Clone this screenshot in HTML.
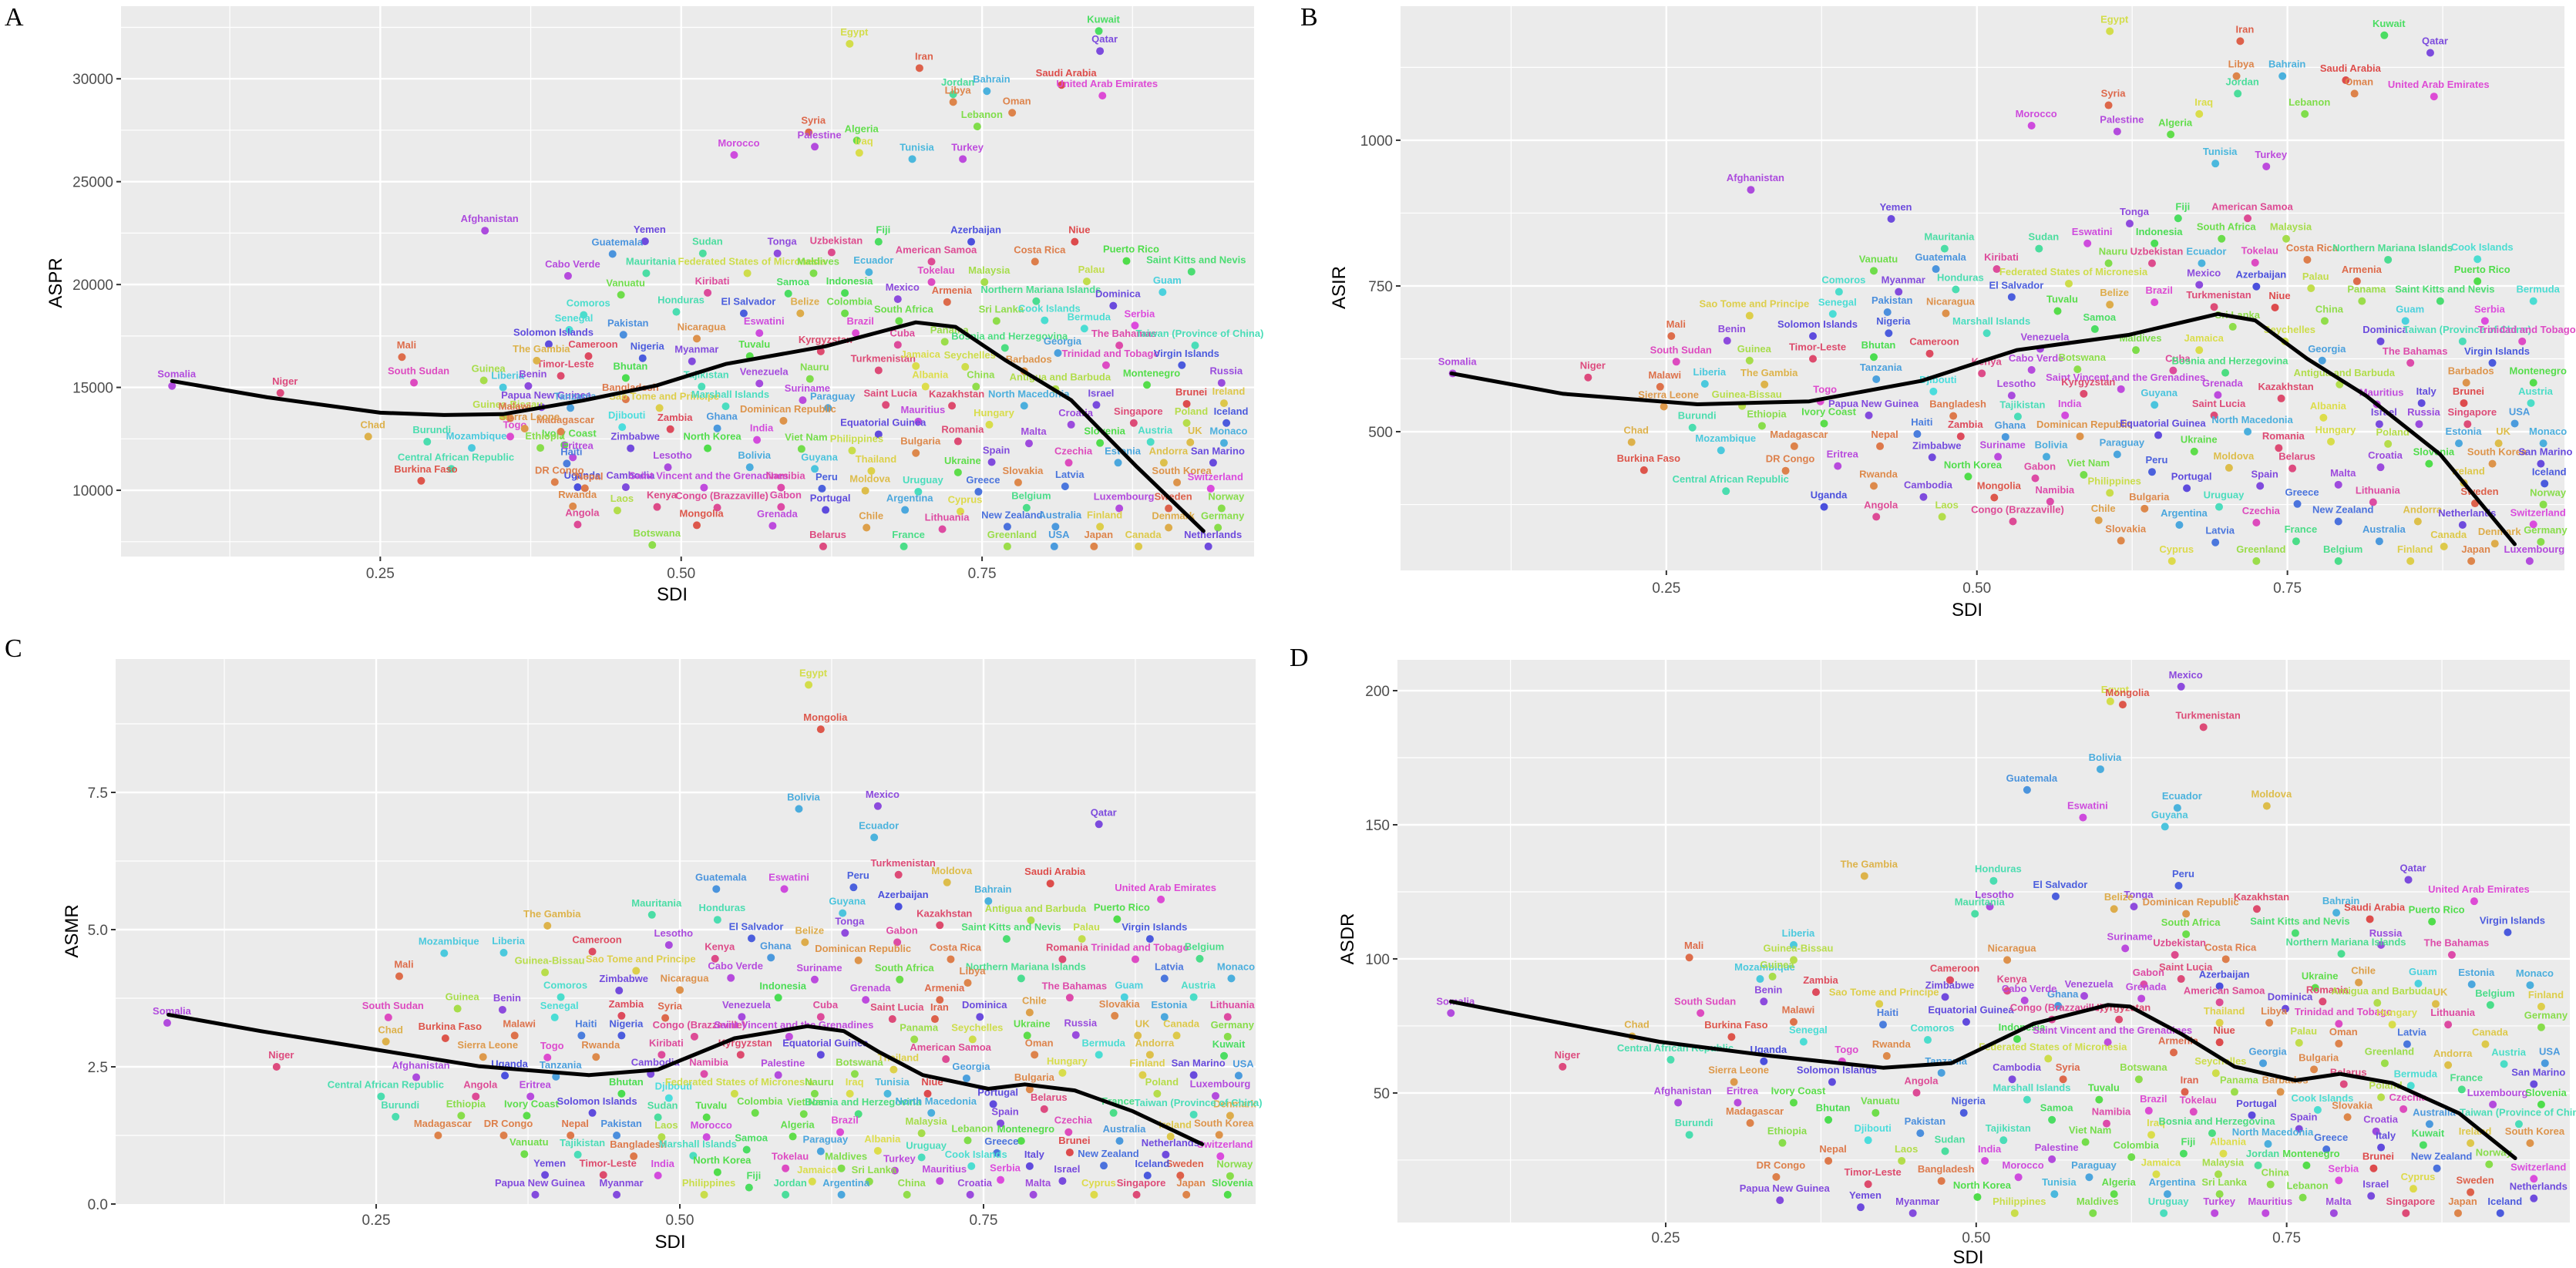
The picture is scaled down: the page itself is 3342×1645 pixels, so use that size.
<!DOCTYPE html>
<html><head><meta charset="utf-8">
<style>
html,body{margin:0;padding:0;background:#fff;}
svg{display:block;}
.lbl{font-family:"Liberation Sans Narrow","Liberation Sans",sans-serif;font-weight:bold;font-size:13px;}
.tick{font-family:"Liberation Sans",sans-serif;font-size:19px;fill:#4d4d4d;}
.ttl{font-family:"Liberation Sans Narrow","Liberation Sans",sans-serif;font-size:24px;fill:#000;}
.plet{font-family:"Liberation Serif",serif;font-size:34px;fill:#000;}
</style></head>
<body>
<svg id="fig" width="3342" height="1645" viewBox="0 0 3342 1645" xmlns="http://www.w3.org/2000/svg"></svg>
<script>
// ---------- Panel A (ASPR) ----------
const aPoints = [
["Egypt",0.64,31700],["Kuwait",0.847,32320],["Qatar",0.848,31350],["Iran",0.698,30520],["Jordan",0.726,29250],["Libya",0.726,28870],
["Bahrain",0.754,29400],["Saudi Arabia",0.816,29700],["United Arab Emirates",0.85,29180],["Oman",0.775,28350],["Lebanon",0.746,27680],
["Syria",0.606,27400],["Algeria",0.646,27000],["Palestine",0.611,26700],["Iraq",0.648,26400],["Morocco",0.544,26300],["Tunisia",0.692,26100],["Turkey",0.734,26100],
["Afghanistan",0.337,22620],["Yemen",0.47,22100],["Guatemala",0.443,21485],["Sudan",0.518,21515],["Tonga",0.58,21515],["Uzbekistan",0.625,21560],
["Fiji",0.664,22080],["Azerbaijan",0.741,22080],["Niue",0.827,22080],["Cabo Verde",0.406,20420],["Mauritania",0.471,20550],
["Federated States of Micronesia",0.555,20550],["Maldives",0.61,20550],["Ecuador",0.656,20600],["American Samoa",0.708,21115],["Costa Rica",0.794,21115],
["Puerto Rico",0.87,21145],["Saint Kitts and Nevis",0.924,20625],["Vanuatu",0.45,19500],["Kiribati",0.522,19600],["Samoa",0.589,19560],["Indonesia",0.636,19590],
["Tokelau",0.708,20120],["Malaysia",0.752,20120],["Palau",0.837,20150],["Guam",0.9,19630],["Comoros",0.419,18520],["Honduras",0.496,18670],
["El Salvador",0.552,18600],["Belize",0.599,18600],["Colombia",0.636,18600],["Mexico",0.68,19290],["Armenia",0.721,19150],["Northern Mariana Islands",0.795,19190],
["Dominica",0.859,18970],["Pakistan",0.452,17560],["Nicaragua",0.513,17370],["Eswatini",0.565,17640],["Brazil",0.645,17640],["South Africa",0.681,18230],
["Sri Lanka",0.762,18230],["Cook Islands",0.802,18260],["Bermuda",0.835,17860],["Serbia",0.877,18010],["Cameroon",0.423,16520],["Nigeria",0.468,16420],
["Myanmar",0.509,16270],["Tuvalu",0.557,16520],["Kyrgyzstan",0.616,16750],["Cuba",0.68,17070],["Panama",0.719,17220],["Bosnia and Herzegovina",0.769,16920],
["Georgia",0.813,16670],["The Bahamas",0.864,17040],["Taiwan (Province of China)",0.927,17040],["Timor-Leste",0.4,15560],["Bhutan",0.454,15460],
["Tajikistan",0.517,15040],["Venezuela",0.565,15190],["Nauru",0.607,15410],["Turkmenistan",0.664,15830],["Jamaica",0.695,16040],["Seychelles",0.736,16000],
["Barbados",0.785,15790],["Trinidad and Tobago",0.853,16080],["Virgin Islands",0.916,16080],["Papua New Guinea",0.384,14040],["Bangladesh",0.454,14420],
["Suriname",0.601,14380],["Albania",0.703,15040],["China",0.745,15040],["Antigua and Barbuda",0.811,14920],["Montenegro",0.887,15120],["Russia",0.949,15220],
["Tanzania",0.408,14000],["Sao Tome and Principe",0.482,14000],["Marshall Islands",0.537,14080],["Paraguay",0.622,14000],["Saint Lucia",0.67,14150],
["Kazakhstan",0.725,14110],["North Macedonia",0.785,14110],["Israel",0.845,14150],["Brunei",0.92,14200],["Ireland",0.951,14230],["Djibouti",0.451,13070],
["Zambia",0.491,12970],["Ghana",0.53,13010],["Dominican Republic",0.585,13380],["Mauritius",0.697,13340],["Hungary",0.756,13190],["Croatia",0.824,13190],
["Singapore",0.876,13270],["Poland",0.92,13270],["Iceland",0.953,13270],["Ivory Coast",0.403,12200],["Zimbabwe",0.458,12040],["North Korea",0.522,12040],
["India",0.563,12450],["Equatorial Guinea",0.664,12720],["Romania",0.73,12380],["Malta",0.789,12280],["Slovenia",0.848,12300],["Austria",0.89,12350],
["UK",0.923,12330],["Monaco",0.951,12300],["Viet Nam",0.6,12010],["Philippines",0.642,11930],["Bulgaria",0.695,11810],["Lesotho",0.489,11120],
["Bolivia",0.557,11120],["Guyana",0.611,11040],["Thailand",0.658,10940],["Spain",0.758,11370],["Czechia",0.822,11340],["Estonia",0.863,11340],
["Andorra",0.901,11340],["San Marino",0.942,11340],["Uganda",0.414,10150],["Cambodia",0.454,10150],["Saint Vincent and the Grenadines",0.519,10130],
["Namibia",0.583,10130],["Peru",0.617,10080],["Moldova",0.653,9980],["Ukraine",0.73,10870],["Uruguay",0.697,9930],["Greece",0.747,9930],["Slovakia",0.78,10380],
["Latvia",0.819,10190],["South Korea",0.912,10380],["Switzerland",0.94,10080],["Rwanda",0.41,9220],["Laos",0.447,9020],["Kenya",0.48,9190],
["Congo (Brazzaville)",0.53,9160],["Gabon",0.583,9190],["Portugal",0.62,9045],["Argentina",0.686,9045],["Cyprus",0.732,8970],["Belgium",0.787,9150],
["Luxembourg",0.864,9120],["Sweden",0.905,9120],["Norway",0.949,9120],["Angola",0.414,8335],["Mongolia",0.513,8300],["Grenada",0.576,8275],["Chile",0.654,8185],
["Lithuania",0.717,8110],["New Zealand",0.771,8230],["Australia",0.811,8230],["Finland",0.848,8230],["Denmark",0.905,8185],["Germany",0.946,8185],
["Botswana",0.476,7340],["Belarus",0.618,7270],["France",0.685,7270],["Greenland",0.771,7270],["USA",0.81,7270],["Japan",0.843,7270],["Canada",0.88,7270],
["Netherlands",0.938,7270],["Somalia",0.077,15070],["Niger",0.167,14730],["Mali",0.268,16475],["South Sudan",0.278,15230],["Guinea",0.336,15340],
["Liberia",0.352,15000],["Benin",0.373,15070],["Senegal",0.407,17800],["Solomon Islands",0.39,17100],["The Gambia",0.38,16300],["Guinea-Bissau",0.352,13590],
["Malawi",0.358,13500],["Chad",0.24,12610],["Burundi",0.289,12360],["Mozambique",0.326,12060],["Central African Republic",0.309,11040],["Burkina Faso",0.284,10460],
["Togo",0.358,12610],["Ethiopia",0.383,12060],["Madagascar",0.4,12850],["Sierra Leone",0.37,13000],["Eritrea",0.41,11600],["Haiti",0.405,11300],
["DR Congo",0.395,10400],["Nepal",0.42,10100]
];
const aCurveSdi = [0.077,0.156,0.25,0.303,0.352,0.418,0.48,0.537,0.62,0.695,0.728,0.77,0.824,0.879,0.934];
const aCurveVal = [15310,14520,13770,13660,13700,14360,15100,16140,17000,18160,17940,16300,14380,11120,8020];
const aYTicks = [10000,15000,20000,25000,30000];
const aYTickLabels = ["10000","15000","20000","25000","30000"];

// ---------- Panel B (ASIR) ----------
const bPoints = [
["Egypt",0.607,1187],["Iran",0.712,1170],["Kuwait",0.828,1180],["Qatar",0.865,1150],["Libya",0.709,1110],["Bahrain",0.746,1110],["Saudi Arabia",0.797,1103],
["Jordan",0.71,1080],["Oman",0.804,1080],["United Arab Emirates",0.868,1075],["Syria",0.606,1060],["Iraq",0.679,1045],["Lebanon",0.764,1045],["Morocco",0.544,1025],
["Palestine",0.613,1015],["Algeria",0.656,1010],["Tunisia",0.692,960],["Turkey",0.733,955],["Afghanistan",0.318,915],["Yemen",0.431,865],
["Tonga",0.623,857],["Fiji",0.662,866],["American Samoa",0.718,866],["South Africa",0.697,831],["Malaysia",0.749,831],["Mauritania",0.474,814],["Sudan",0.55,814],
["Eswatini",0.589,823],["Indonesia",0.643,823],["Nauru",0.606,789],["Uzbekistan",0.641,789],["Ecuador",0.681,789],["Tokelau",0.724,790],["Costa Rica",0.766,795],
["Northern Mariana Islands",0.831,795],["Cook Islands",0.903,796],["Vanuatu",0.417,776],["Guatemala",0.467,779],["Kiribati",0.516,779],["Honduras",0.483,744],
["Federated States of Micronesia",0.574,754],["Mexico",0.679,752],["Azerbaijan",0.725,749],["Palau",0.769,746],["Armenia",0.806,758],["Puerto Rico",0.903,758],
["Comoros",0.389,740],["Myanmar",0.437,740],["El Salvador",0.528,731],["Belize",0.607,718],["Brazil",0.643,722],["Turkmenistan",0.691,714],["Panama",0.81,724],
["Saint Kitts and Nevis",0.873,724],["Bermuda",0.948,724],["Sao Tome and Principe",0.317,699],["Senegal",0.384,702],["Pakistan",0.428,705],["Nicaragua",0.475,703],
["Tuvalu",0.565,707],["Niue",0.74,713],["China",0.78,690],["Guam",0.845,690],["Serbia",0.909,690],["Mali",0.254,664],["Benin",0.299,656],
["Solomon Islands",0.368,664],["Nigeria",0.429,669],["Marshall Islands",0.508,669],["Samoa",0.595,676],["Sri Lanka",0.706,680],["Seychelles",0.748,655],
["Dominica",0.825,655],["Taiwan (Province of China)",0.891,655],["Trinidad and Tobago",0.939,655],["Somalia",0.078,600],["South Sudan",0.258,620],
["Guinea",0.317,622],["Timor-Leste",0.368,625],["Bhutan",0.417,628],["Cameroon",0.462,634],["Venezuela",0.551,642],["Maldives",0.628,640],["Jamaica",0.679,640],
["Georgia",0.778,622],["The Bahamas",0.849,618],["Virgin Islands",0.915,618],["Niger",0.187,593],["Malawi",0.245,577],["Liberia",0.281,582],["The Gambia",0.329,581],
["Tanzania",0.419,590],["Kenya",0.504,600],["Cabo Verde",0.544,606],["Botswana",0.581,607],["Cuba",0.658,605],["Bosnia and Herzegovina",0.7,601],
["Antigua and Barbuda",0.792,581],["Barbados",0.894,584],["Montenegro",0.948,584],["Djibouti",0.465,569],["Lesotho",0.528,562],
["Saint Vincent and the Grenadines",0.616,573],["Kyrgyzstan",0.586,565],["Grenada",0.694,563],["Kazakhstan",0.745,557],["Mauritius",0.822,547],["Italy",0.858,549],
["Brunei",0.892,549],["Sierra Leone",0.248,543],["Guinea-Bissau",0.311,544],["Togo",0.374,552],["Guyana",0.643,546],["Saint Lucia",0.691,528],
["Papua New Guinea",0.413,528],["Bangladesh",0.481,527],["Tajikistan",0.533,526],["India",0.571,528],["Albania",0.779,524],["Israel",0.824,513],["Russia",0.856,513],
["Singapore",0.895,513],["USA",0.933,514],["Austria",0.946,549],["Chad",0.222,482],["Burundi",0.271,507],["Ethiopia",0.327,510],["Ivory Coast",0.377,514],
["Haiti",0.452,496],["North Macedonia",0.718,500],["Mozambique",0.294,468],["Madagascar",0.353,475],["Nepal",0.422,475],["Zambia",0.487,492],["Ghana",0.523,491],
["Dominican Republic",0.583,492],["Equatorial Guinea",0.646,494],["Hungary",0.785,483],["Poland",0.831,479],["Estonia",0.888,480],["UK",0.92,480],["Monaco",0.956,480],
["Burkina Faso",0.232,434],["DR Congo",0.346,433],["Eritrea",0.388,441],["Zimbabwe",0.464,456],["Suriname",0.517,457],["Bolivia",0.556,457],["Paraguay",0.613,461],
["Ukraine",0.675,466],["Romania",0.743,472],["Croatia",0.825,439],["Slovenia",0.864,445],["South Korea",0.915,445],["San Marino",0.954,445],["North Korea",0.493,423],
["Gabon",0.547,420],["Viet Nam",0.586,426],["Peru",0.641,431],["Moldova",0.703,438],["Belarus",0.754,437],["Central African Republic",0.298,398],["Rwanda",0.417,407],
["Cambodia",0.457,388],["Mongolia",0.514,387],["Namibia",0.559,380],["Philippines",0.607,395],["Portugal",0.669,403],["Spain",0.728,407],["Malta",0.791,409],
["Ireland",0.892,412],["Iceland",0.957,411],["Uganda",0.377,371],["Angola",0.419,354],["Laos",0.472,354],["Congo (Brazzaville)",0.529,346],["Chile",0.598,348],
["Bulgaria",0.635,368],["Uruguay",0.695,371],["Greece",0.758,376],["Lithuania",0.819,379],["Sweden",0.901,377],["Norway",0.956,375],["Argentina",0.663,340],
["Czechia",0.725,344],["New Zealand",0.791,346],["Andorra",0.855,346],["Netherlands",0.891,340],["Switzerland",0.948,341],["Slovakia",0.616,313],["Latvia",0.692,310],
["France",0.757,312],["Australia",0.824,312],["Canada",0.876,303],["Denmark",0.917,308],["Germany",0.954,311],["Cyprus",0.657,278],["Greenland",0.725,278],
["Belgium",0.791,278],["Finland",0.849,278],["Japan",0.898,278],["Luxembourg",0.945,278]
];
const bCurveSdi = [0.077,0.167,0.275,0.365,0.455,0.532,0.622,0.694,0.724,0.766,0.813,0.873,0.933];
const bCurveVal = [600,565,547,552,587,640,666,702,691,625,562,461,307];
const bYTicks = [500,750,1000];
const bYTickLabels = ["500","750","1000"];

// ---------- Panel C (ASMR) ----------
const cPoints = [
["Egypt",0.606,9.46],["Mongolia",0.616,8.65],["Bolivia",0.598,7.2],["Mexico",0.663,7.25],["Qatar",0.845,6.92],["Ecuador",0.66,6.68],["Turkmenistan",0.68,6.0],
["Eswatini",0.586,5.74],["Guatemala",0.53,5.74],["Peru",0.643,5.77],["Moldova",0.72,5.86],["Saudi Arabia",0.805,5.84],["United Arab Emirates",0.896,5.55],
["Bahrain",0.754,5.52],["Azerbaijan",0.68,5.42],["The Gambia",0.391,5.07],["Mauritania",0.477,5.27],["Honduras",0.531,5.18],["Guyana",0.634,5.3],
["Kazakhstan",0.714,5.08],["Antigua and Barbuda",0.789,5.17],["Puerto Rico",0.86,5.19],["Tonga",0.636,4.94],["Lesotho",0.491,4.72],["El Salvador",0.559,4.84],
["Belize",0.603,4.77],["Gabon",0.679,4.77],["Saint Kitts and Nevis",0.769,4.83],["Palau",0.831,4.83],["Virgin Islands",0.887,4.83],["Mozambique",0.306,4.57],
["Liberia",0.355,4.58],["Cameroon",0.428,4.6],["Kenya",0.529,4.47],["Ghana",0.575,4.49],["Dominican Republic",0.647,4.44],["Costa Rica",0.723,4.46],
["Romania",0.815,4.46],["Trinidad and Tobago",0.875,4.46],["Belgium",0.928,4.47],["Guinea-Bissau",0.389,4.22],["Sao Tome and Principe",0.464,4.25],
["Mali",0.269,4.15],["Cabo Verde",0.542,4.12],["Suriname",0.611,4.09],["South Africa",0.681,4.09],["Northern Mariana Islands",0.781,4.11],["Libya",0.737,4.03],
["Latvia",0.899,4.11],["Monaco",0.954,4.11],["Zimbabwe",0.45,3.89],["Nicaragua",0.5,3.9],["Comoros",0.402,3.77],["Indonesia",0.581,3.76],["Grenada",0.653,3.72],
["Armenia",0.714,3.72],["The Bahamas",0.821,3.76],["Guam",0.866,3.77],["Austria",0.923,3.77],["Guinea",0.317,3.56],["Benin",0.354,3.54],["Somalia",0.078,3.3],
["South Sudan",0.26,3.4],["Senegal",0.397,3.4],["Zambia",0.452,3.43],["Syria",0.488,3.39],["Venezuela",0.551,3.41],["Cuba",0.616,3.41],["Saint Lucia",0.675,3.37],
["Iran",0.71,3.37],["Dominica",0.747,3.41],["Chile",0.788,3.49],["Slovakia",0.858,3.43],["Estonia",0.899,3.41],["Lithuania",0.951,3.41],["Burkina Faso",0.307,3.02],
["Chad",0.258,2.96],["Malawi",0.364,3.07],["Haiti",0.419,3.07],["Nigeria",0.452,3.07],["Congo (Brazzaville)",0.512,3.05],["Saint Vincent and the Grenadines",0.59,3.05],
["Panama",0.693,3.0],["Seychelles",0.741,3.0],["Ukraine",0.786,3.07],["Russia",0.826,3.08],["UK",0.877,3.07],["Canada",0.909,3.07],["Germany",0.951,3.05],
["Sierra Leone",0.338,2.68],["Togo",0.391,2.67],["Rwanda",0.431,2.68],["Kiribati",0.485,2.72],["Kyrgyzstan",0.55,2.72],["Equatorial Guinea",0.616,2.72],
["American Samoa",0.719,2.64],["Oman",0.792,2.72],["Bermuda",0.845,2.72],["Andorra",0.887,2.72],["Kuwait",0.948,2.7],["Niger",0.168,2.5],["Afghanistan",0.283,2.31],
["Uganda",0.356,2.34],["Tanzania",0.398,2.32],["Cambodia",0.476,2.37],["Namibia",0.52,2.37],["Palestine",0.581,2.35],["Botswana",0.644,2.37],["Thailand",0.676,2.45],
["Georgia",0.736,2.29],["Hungary",0.815,2.39],["Finland",0.881,2.35],["San Marino",0.923,2.35],["USA",0.96,2.34],["Central African Republic",0.254,1.96],
["Angola",0.332,1.96],["Eritrea",0.377,1.96],["Bhutan",0.452,2.01],["Djibouti",0.491,1.93],["Federated States of Micronesia",0.545,2.01],["Nauru",0.611,2.01],
["Iraq",0.64,2.01],["Tunisia",0.671,2.01],["Niue",0.704,2.01],["Bulgaria",0.788,2.09],["Poland",0.893,2.01],["Luxembourg",0.941,1.97],["Portugal",0.758,1.82],
["Belarus",0.8,1.73],["France",0.857,1.66],["Denmark",0.953,1.61],["Burundi",0.266,1.59],["Ethiopia",0.32,1.61],["Ivory Coast",0.374,1.61],["Solomon Islands",0.428,1.66],
["Sudan",0.482,1.58],["Tuvalu",0.522,1.58],["Colombia",0.562,1.66],["Viet Nam",0.602,1.64],["Bosnia and Herzegovina",0.647,1.64],["North Macedonia",0.707,1.66],
["Spain",0.764,1.47],["Taiwan (Province of China)",0.923,1.63],["Madagascar",0.301,1.25],["DR Congo",0.355,1.25],["Nepal",0.41,1.25],["Pakistan",0.448,1.25],
["Laos",0.485,1.22],["Morocco",0.522,1.22],["Algeria",0.593,1.23],["Brazil",0.632,1.31],["Malaysia",0.699,1.29],["Lebanon",0.737,1.16],["Montenegro",0.781,1.15],
["Czechia",0.82,1.31],["Australia",0.862,1.15],["Ireland",0.904,1.23],["South Korea",0.944,1.26],["Vanuatu",0.372,0.91],["Tajikistan",0.416,0.9],
["Bangladesh",0.462,0.87],["Marshall Islands",0.511,0.88],["Samoa",0.555,0.99],["Paraguay",0.616,0.96],["Albania",0.663,0.97],["Uruguay",0.699,0.85],
["Greece",0.761,0.93],["Brunei",0.821,0.94],["Netherlands",0.9,0.9],["Switzerland",0.945,0.87],["Yemen",0.389,0.53],["Timor-Leste",0.437,0.53],["India",0.482,0.52],
["North Korea",0.531,0.58],["Tokelau",0.587,0.65],["Maldives",0.633,0.65],["Turkey",0.677,0.61],["Cook Islands",0.74,0.69],["Italy",0.788,0.69],
["New Zealand",0.849,0.7],["Sweden",0.912,0.52],["Norway",0.953,0.51],["Jamaica",0.609,0.41],["Sri Lanka",0.656,0.41],["Mauritius",0.714,0.42],["Serbia",0.764,0.44],
["Israel",0.815,0.42],["Iceland",0.885,0.52],["Papua New Guinea",0.381,0.17],["Myanmar",0.448,0.17],["Philippines",0.52,0.17],["Fiji",0.557,0.3],["Jordan",0.587,0.17],
["Argentina",0.633,0.17],["China",0.687,0.17],["Croatia",0.739,0.17],["Malta",0.791,0.17],["Cyprus",0.841,0.17],["Singapore",0.876,0.17],["Japan",0.917,0.17],
["Slovenia",0.951,0.17]
];
const cCurveSdi = [0.079,0.155,0.245,0.335,0.425,0.482,0.545,0.605,0.635,0.664,0.7,0.754,0.784,0.825,0.873,0.93];
const cCurveVal = [3.45,3.15,2.83,2.51,2.35,2.45,3.02,3.24,3.15,2.77,2.35,2.1,2.18,2.07,1.69,1.09];
const cYTicks = [0,2.5,5,7.5];
const cYTickLabels = ["0.0","2.5","5.0","7.5"];

// ---------- Panel D (ASDR) ----------
const dPoints = [
["Mexico",0.665,201.5],["Egypt",0.608,196],["Mongolia",0.618,194.8],["Turkmenistan",0.683,186.4],["Bolivia",0.6,170.7],["Guatemala",0.541,163],["Ecuador",0.662,156.3],
["Moldova",0.734,157],["Eswatini",0.586,152.7],["Guyana",0.652,149.3],["The Gambia",0.41,130.9],["Peru",0.663,127.3],["Qatar",0.848,129.5],["Honduras",0.514,129.1],
["El Salvador",0.564,123.3],["Tonga",0.627,119.5],["Kazakhstan",0.726,118.6],["Saudi Arabia",0.817,114.8],["United Arab Emirates",0.901,121.5],["Lesotho",0.511,119.5],
["Belize",0.611,118.6],["Mauritania",0.499,116.8],["Dominican Republic",0.669,116.8],["Bahrain",0.79,117.2],["Puerto Rico",0.867,113.9],["Virgin Islands",0.928,109.9],
["Liberia",0.353,105.2],["Saint Kitts and Nevis",0.757,109.6],["Russia",0.826,105.2],["South Africa",0.669,109.2],["Guinea-Bissau",0.353,99.6],["Mali",0.269,100.5],
["Nicaragua",0.525,99.6],["Suriname",0.62,103.9],["Uzbekistan",0.66,101.5],["Costa Rica",0.701,99.9],["Northern Mariana Islands",0.794,101.9],["The Bahamas",0.883,101.5],
["Cameroon",0.479,92.1],["Mozambique",0.326,92.5],["Guinea",0.336,93.4],["Zimbabwe",0.475,85.8],["Kenya",0.525,88.1],["Ghana",0.566,82.5],["Gabon",0.635,90.5],
["Saint Lucia",0.665,92.5],["Azerbaijan",0.696,89.8],["Ukraine",0.773,89.2],["Chile",0.808,91.2],["Guam",0.856,90.8],["Estonia",0.899,90.5],["Monaco",0.946,90.2],
["Dominica",0.749,81.4],["South Sudan",0.278,79.8],["Benin",0.329,84.1],["Zambia",0.371,87.6],["Sao Tome and Principe",0.422,83.2],["Cabo Verde",0.539,84.5],
["Venezuela",0.587,86.2],["Grenada",0.633,85.2],["American Samoa",0.696,83.8],["Romania",0.779,84.1],["Antigua and Barbuda",0.823,83.6],["UK",0.87,83.2],
["Belgium",0.914,82.8],["Finland",0.955,82.2],["Somalia",0.077,79.8],["Burkina Faso",0.303,70.9],["Malawi",0.353,76.5],["Haiti",0.425,75.5],["Equatorial Guinea",0.492,76.5],
["Congo (Brazzaville)",0.561,77.4],["Kyrgyzstan",0.615,77.4],["Libya",0.736,76.2],["Thailand",0.696,76.2],["Trinidad and Tobago",0.792,75.8],["Hungary",0.835,75.5],
["Lithuania",0.88,75.5],["Germany",0.955,74.5],["Senegal",0.361,69.1],["Comoros",0.461,69.8],["Indonesia",0.533,70.1],["Saint Vincent and the Grenadines",0.606,68.9],
["Niue",0.696,68.9],["Palau",0.76,68.7],["Oman",0.792,68.4],["Latvia",0.847,68.2],["Canada",0.91,68.2],["Chad",0.223,71.1],["Central African Republic",0.254,62.4],
["Uganda",0.329,61.8],["Rwanda",0.428,63.8],["Togo",0.392,61.8],["Armenia",0.659,65.1],["Federated States of Micronesia",0.558,62.8],["Tanzania",0.472,57.5],
["Georgia",0.731,61.1],["Bulgaria",0.772,58.8],["Greenland",0.829,61.1],["Andorra",0.88,60.4],["Austria",0.925,60.8],["USA",0.958,61.1],["Niger",0.167,59.8],
["Sierra Leone",0.305,54.1],["Solomon Islands",0.384,54.1],["Angola",0.452,50.1],["Cambodia",0.529,55.1],["Syria",0.57,55.1],["Botswana",0.631,55.1],
["Seychelles",0.693,57.4],["Belarus",0.796,53.3],["Bermuda",0.85,52.7],["France",0.891,51.3],["San Marino",0.949,53.3],["Afghanistan",0.26,46.4],["Eritrea",0.308,46.4],
["Ivory Coast",0.353,46.4],["Marshall Islands",0.541,47.5],["Tuvalu",0.599,47.5],["Iran",0.668,50.4],["Panama",0.708,50.4],["Barbados",0.745,50.4],["Poland",0.826,48.4],
["Czechia",0.844,44],["Luxembourg",0.916,45.7],["Slovenia",0.955,45.7],["Vanuatu",0.419,42.6],["Nigeria",0.49,42.6],["Samoa",0.561,40],["Namibia",0.605,38.6],
["Brazil",0.639,43.4],["Tokelau",0.675,43],["Portugal",0.722,41.7],["Cook Islands",0.775,43.7],["Slovakia",0.799,41],["Australia",0.865,38.4],
["Taiwan (Province of China)",0.937,38.4],["Madagascar",0.318,38.8],["Bhutan",0.381,40],["Burundi",0.269,34.4],["Ethiopia",0.344,31.4],["Djibouti",0.413,32.4],
["Pakistan",0.455,35],["Tajikistan",0.522,32.4],["Viet Nam",0.588,31.7],["Iraq",0.641,34.4],["Bosnia and Herzegovina",0.69,35],["Spain",0.76,36.6],["Croatia",0.822,35.7],
["Kuwait",0.86,30.6],["Ireland",0.898,31.3],["South Korea",0.946,31.3],["Sudan",0.475,28.3],["Laos",0.44,24.7],["India",0.507,24.7],["Palestine",0.561,25.3],
["Colombia",0.625,26.1],["Fiji",0.667,27.4],["Albania",0.699,27.4],["North Macedonia",0.735,31],["Greece",0.782,29],["Italy",0.826,29.7],["Nepal",0.381,24.7],
["DR Congo",0.339,18.7],["Timor-Leste",0.413,16],["Bangladesh",0.472,17.2],["Morocco",0.534,18.6],["Paraguay",0.591,18.6],["Jamaica",0.645,19.7],["Malaysia",0.695,19.7],
["Jordan",0.727,23],["Montenegro",0.766,23],["Brunei",0.82,21.9],["New Zealand",0.871,21.9],["Norway",0.913,23.4],["Switzerland",0.949,18],["China",0.737,15.9],
["Serbia",0.792,17.4],["Papua New Guinea",0.342,10],["Yemen",0.407,7.4],["North Korea",0.501,11.2],["Tunisia",0.563,12.3],["Algeria",0.611,12.3],["Argentina",0.654,12.3],
["Sri Lanka",0.696,12.3],["Lebanon",0.763,11],["Israel",0.818,11.6],["Cyprus",0.852,14.3],["Sweden",0.898,13],["Netherlands",0.949,10.7],["Myanmar",0.449,5.2],
["Philippines",0.531,5.2],["Maldives",0.594,5.2],["Uruguay",0.651,5.2],["Turkey",0.692,5.2],["Mauritius",0.733,5.2],["Malta",0.788,5.2],["Singapore",0.846,5.2],
["Japan",0.888,5.2],["Iceland",0.922,5.2]
];
const dCurveSdi = [0.077,0.154,0.245,0.335,0.425,0.48,0.546,0.606,0.624,0.666,0.708,0.757,0.793,0.835,0.889,0.934];
const dCurveVal = [84.1,77.1,69.1,63.8,59.4,61.1,75.8,82.8,82.2,71.8,59.8,54.7,57.1,53.7,42.4,25.7];
const dYTicks = [50,100,150,200];
const dYTickLabels = ["50","100","150","200"];

const xTicks = [0.25,0.5,0.75];
const xTickLabels = ["0.25","0.50","0.75"];

const NS = "http://www.w3.org/2000/svg";
const svg = document.getElementById('fig');
function mk(tag, attrs, parent){
  const e = document.createElementNS(NS, tag);
  for (const k in attrs) e.setAttribute(k, attrs[k]);
  (parent||svg).appendChild(e);
  return e;
}
function colorFor(name){
  let h = 0;
  for (let i=0;i<name.length;i++) h = (h*31 + name.charCodeAt(i)) % 100003;
  const hue = (h*137.508) % 360;
  return "hsl(" + hue.toFixed(0) + ",68%,58%)";
}

function drawPanel(cfg, points, curveS, curveV, yTicks, yTickLabels){
  const g = mk('g', {});
  
  
  const xs = s => cfg.left + (s - cfg.xmin)/(cfg.xmax - cfg.xmin)*(cfg.right - cfg.left);
  const ys = v => cfg.bottom - (v - cfg.ymin)/(cfg.ymax - cfg.ymin)*(cfg.bottom - cfg.top);
  const bg = mk('rect', {x:cfg.left, y:cfg.top, width:cfg.right-cfg.left, height:cfg.bottom-cfg.top, fill:'#ebebeb'}, g);
  
  
  const xMinor = [0.125,0.375,0.625,0.875];
  xMinor.forEach(s=>{ const x=xs(s); if(x>cfg.left&&x<cfg.right) mk('line',{x1:x,x2:x,y1:cfg.top,y2:cfg.bottom,stroke:'#fff','stroke-width':1.2},g); });
  for (let i=0;i<yTicks.length+1;i++){
    const step = yTicks[1]-yTicks[0];
    const v = yTicks[0] - step/2 + i*step;
    const y = ys(v);
    if (y>cfg.top && y<cfg.bottom) mk('line',{x1:cfg.left,x2:cfg.right,y1:y,y2:y,stroke:'#fff','stroke-width':1.2},g);
  }
  xTicks.forEach((s,i)=>{
    const x = xs(s);
    mk('line',{x1:x,x2:x,y1:cfg.top,y2:cfg.bottom,stroke:'#fff','stroke-width':2.4},g);
    mk('line',{x1:x,x2:x,y1:cfg.bottom,y2:cfg.bottom+6,stroke:'#333','stroke-width':2},g);
    const t = mk('text',{x:x,y:cfg.bottom+cfg.xLabDy,'text-anchor':'middle',class:'tick'},g);
    t.textContent = xTickLabels[i];
    
    
  });
  yTicks.forEach((v,i)=>{
    const y = ys(v);
    if (y>cfg.top && y<cfg.bottom) mk('line',{x1:cfg.left,x2:cfg.right,y1:y,y2:y,stroke:'#fff','stroke-width':2.4},g);
    mk('line',{x1:cfg.left-6,x2:cfg.left,y1:y,y2:y,stroke:'#333','stroke-width':2},g);
    const t = mk('text',{x:cfg.left-10,y:y+7,'text-anchor':'end',class:'tick'},g);
    t.textContent = yTickLabels[i];
    
    
  });
  points.forEach(p=>{
    const x = xs(p[1]), y = ys(p[2]);
    const col = colorFor(p[0]);
    const c = mk('circle',{cx:x,cy:y,r:5,fill:col},g);
    
    
    const t = mk('text',{x:x+6,y:y-11,'text-anchor':'middle',class:'lbl',fill:col},g);
    t.textContent = p[0];
    
    
  });
  let d = '';
  curveS.forEach((s,i)=>{ d += (i?'L':'M') + xs(s).toFixed(1) + ',' + ys(curveV[i]).toFixed(1); });
  const path = mk('path',{d:d,fill:'none',stroke:'#000','stroke-width':5,'stroke-linejoin':'round','stroke-linecap':'round'},g);
  
  
  const xt = mk('text',{x:(cfg.left+cfg.right)/2 - 20,y:cfg.bottom+cfg.xTitleDy,'text-anchor':'middle',class:'ttl'},g);
  xt.textContent = 'SDI';
  
  
  const yt = mk('text',{x:0,y:0,'text-anchor':'middle',class:'ttl',transform:'translate('+cfg.yTitleX+','+cfg.yTitleY+') rotate(-90)'},g);
  yt.textContent = cfg.yTitle;
  
  
  const pl = mk('text',{x:cfg.letterX,y:cfg.letterY,class:'plet'},g);
  pl.textContent = cfg.letter;
  
  
}

drawPanel({id:'aspr',letter:'A',letterX:6,letterY:33,left:157,right:1627,top:8,bottom:722,xmin:0.0346,xmax:0.976,ymin:6780,ymax:33530,
  xLabDy:28,xTitleDy:57,yTitle:'ASPR',yTitleX:80,yTitleY:367}, aPoints, aCurveSdi, aCurveVal, aYTicks, aYTickLabels);
drawPanel({id:'asir',letter:'B',letterX:1687,letterY:33,left:1817,right:3327,top:8,bottom:740,xmin:0.036,xmax:0.973,ymin:262,ymax:1230,
  xLabDy:29,xTitleDy:59,yTitle:'ASIR',yTitleX:1745,yTitleY:373}, bPoints, bCurveSdi, bCurveVal, bYTicks, bYTickLabels);
drawPanel({id:'asmr',letter:'C',letterX:6,letterY:852,left:150,right:1629,top:855,bottom:1562,xmin:0.0355,xmax:0.974,ymin:0,ymax:9.93,
  xLabDy:27,xTitleDy:57,yTitle:'ASMR',yTitleX:101,yTitleY:1208}, cPoints, cCurveSdi, cCurveVal, cYTicks, cYTickLabels);
drawPanel({id:'asdr',letter:'D',letterX:1673,letterY:864,left:1813,right:3334,top:856,bottom:1586,xmin:0.034,xmax:0.978,ymin:1.7,ymax:211.5,
  xLabDy:26,xTitleDy:53,yTitle:'ASDR',yTitleX:1756,yTitleY:1218}, dPoints, dCurveSdi, dCurveVal, dYTicks, dYTickLabels);
</script>
</body></html>
